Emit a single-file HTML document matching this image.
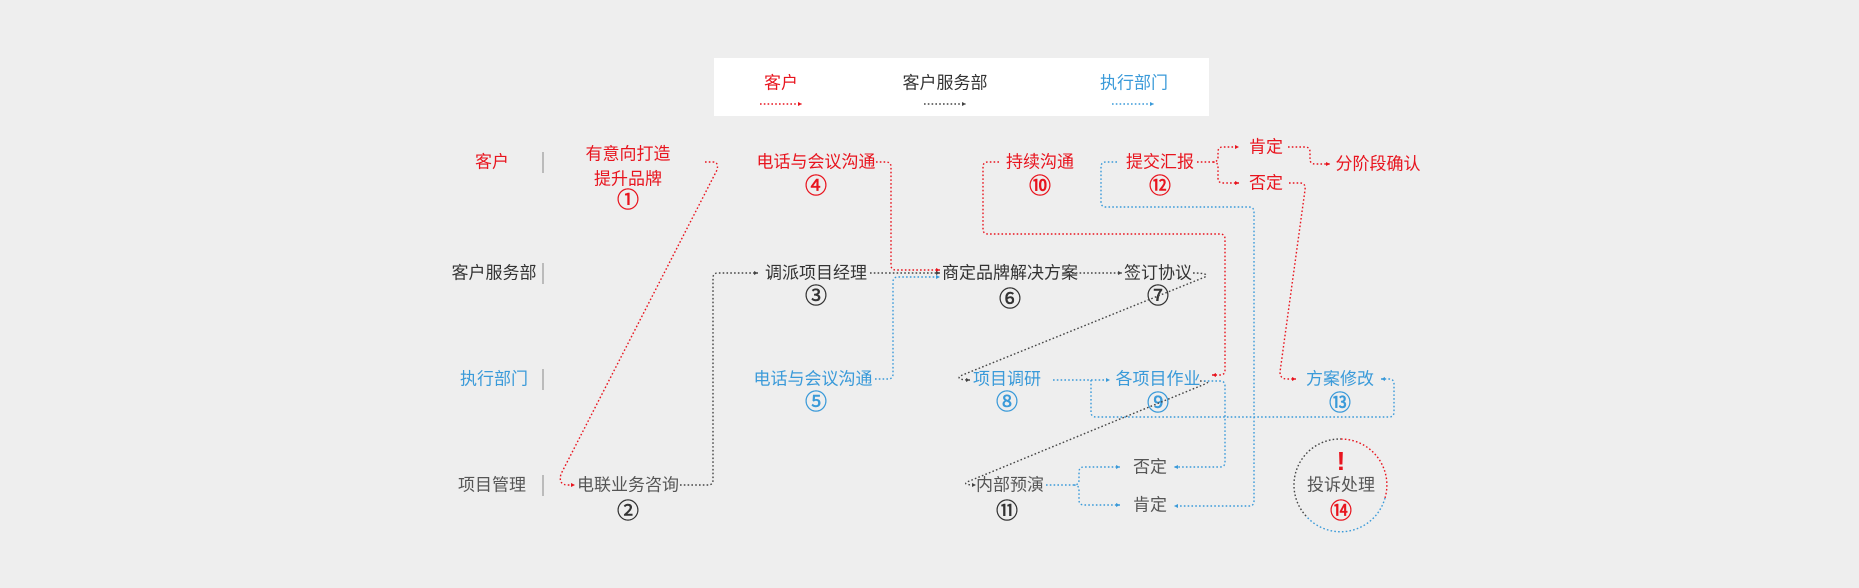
<!DOCTYPE html>
<html><head><meta charset="utf-8"><style>
html,body{margin:0;padding:0;background:#eeeeee;}
svg{display:block;}
text{font-family:"Liberation Sans","Noto Sans CJK SC",sans-serif;font-size:17px;dominant-baseline:central;text-anchor:middle;}
.r{fill:#e8141e}.b{fill:#3a9ad9}.k{fill:#333}.g{fill:#555}
.n{font-size:22px;stroke-width:0.5px}
.r.n{stroke:#e8141e}.b.n{stroke:#3a9ad9}.k.n{stroke:#333}
.lr{stroke:#e8141e}.lb{stroke:#3a9ad9}.lk{stroke:#444}
path{fill:none;stroke-width:1.4;stroke-dasharray:1.6 2.2;}
</style></head><body>
<svg width="1859" height="588" viewBox="0 0 1859 588" xmlns="http://www.w3.org/2000/svg">
<defs>
<marker id="ar" markerWidth="5" markerHeight="5" refX="4" refY="2.5" orient="auto" markerUnits="userSpaceOnUse"><path d="M0,0.5 L4,2.5 L0,4.5Z" style="fill:#e8141e;stroke:none"/></marker>
<marker id="ab" markerWidth="5" markerHeight="5" refX="4" refY="2.5" orient="auto" markerUnits="userSpaceOnUse"><path d="M0,0.5 L4,2.5 L0,4.5Z" style="fill:#3a9ad9;stroke:none"/></marker>
<marker id="ak" markerWidth="5" markerHeight="5" refX="4" refY="2.5" orient="auto" markerUnits="userSpaceOnUse"><path d="M0,0.5 L4,2.5 L0,4.5Z" style="fill:#444;stroke:none"/></marker>
</defs>
<rect x="714" y="58" width="495" height="58" fill="#fff"/>
<text x="781" y="83" class="r">客户</text>
<text x="945" y="83" class="k">客户服务部</text>
<text x="1134" y="83" class="b">执行部门</text>
<path class="lr" d="M760,104 H802" marker-end="url(#ar)"/>
<path class="lk" d="M924,104 H966" marker-end="url(#ak)"/>
<path class="lb" d="M1112,104 H1154" marker-end="url(#ab)"/>
<text x="492" y="162" class="r">客户</text>
<text x="494" y="273" class="k">客户服务部</text>
<text x="494" y="379" class="b">执行部门</text>
<text x="492" y="485" class="g">项目管理</text>
<g stroke="#888" stroke-width="1">
<line x1="543" y1="152" x2="543" y2="173"/><line x1="543" y1="263" x2="543" y2="284"/>
<line x1="543" y1="369" x2="543" y2="390"/><line x1="543" y1="475" x2="543" y2="496"/>
</g>
<text x="628" y="154" class="r">有意向打造</text>
<text x="628" y="179" class="r">提升品牌</text>
<text x="628" y="200" class="r n">①</text>
<text x="816" y="162" class="r">电话与会议沟通</text>
<text x="816" y="186" class="r n">④</text>
<text x="1040" y="162" class="r">持续沟通</text>
<text x="1040" y="186" class="r n">⑩</text>
<text x="1160" y="162" class="r">提交汇报</text>
<text x="1160" y="186" class="r n">⑫</text>
<text x="1266" y="147" class="r">肯定</text>
<text x="1266" y="183" class="r">否定</text>
<text x="1378" y="164" class="r">分阶段确认</text>
<text x="816" y="273" class="k">调派项目经理</text>
<text x="816" y="296" class="k n">③</text>
<text x="1010" y="273" class="k">商定品牌解决方案</text>
<text x="1010" y="299" class="k n">⑥</text>
<text x="1158" y="273" class="k">签订协议</text>
<text x="1158" y="296" class="k n">⑦</text>
<text x="813" y="379" class="b">电话与会议沟通</text>
<text x="816" y="402" class="b n">⑤</text>
<text x="1007" y="379" class="b">项目调研</text>
<text x="1007" y="402" class="b n">⑧</text>
<text x="1158" y="379" class="b">各项目作业</text>
<text x="1158" y="403" class="b n">⑨</text>
<text x="1340" y="379" class="b">方案修改</text>
<text x="1340" y="403" class="b n">⑬</text>
<text x="628" y="485" class="g">电联业务咨询</text>
<text x="628" y="511" class="k n">②</text>
<text x="1010" y="485" class="g">内部预演</text>
<text x="1007" y="511" class="k n">⑪</text>
<text x="1150" y="467" class="g">否定</text>
<text x="1150" y="505" class="g">肯定</text>
<text x="1341" y="461" class="r" style="font-size:26px;font-weight:bold">!</text>
<text x="1341" y="485" class="g">投诉处理</text>
<text x="1341" y="511" class="r n">⑭</text>
<path class="lr" d="M1341,439 A46,46 0 0 1 1385,498"/>
<path class="lb" d="M1385,498 A46,46 0 0 1 1306,516"/>
<path class="lk" d="M1306,516 A46,46 0 0 1 1341,439"/>
<path class="lr" d="M705,162 H713 Q719,162 717,170 L561,474 Q558,485 568,485 H575" marker-end="url(#ar)"/>
<path class="lk" d="M680,485 H708 Q713,485 713,480 V278 Q713,273 718,273 H758" marker-end="url(#ak)"/>
<path class="lr" d="M876,162 H886 Q891,162 891,167 V265 Q891,270 896,270 H940" marker-end="url(#ar)"/>
<path class="lk" d="M870,273 H940" marker-end="url(#ak)"/>
<path class="lb" d="M875,379 H888 Q893,379 893,374 V282 Q893,277 898,277 H940" marker-end="url(#ab)"/>
<path class="lk" d="M1072,273 H1122" marker-end="url(#ak)"/>
<path class="lk" d="M1193,273 Q1210,273 1205,277 L960,376 Q956,380 970,380" marker-end="url(#ak)"/>
<path class="lb" d="M1053,380 H1110" marker-end="url(#ab)"/>
<path class="lb" d="M1091,380 V412 Q1091,417 1096,417 H1389 Q1394,417 1394,412 V384 Q1394,379 1389,379 H1381" marker-end="url(#ab)"/>
<path class="lk" d="M1200,381 Q1212,381 1205,384 L967,482 Q962,485 976,485" marker-end="url(#ak)"/>
<path class="lb" d="M1204,381 H1220 Q1225,381 1225,386 V462 Q1225,467 1220,467 H1174" marker-end="url(#ab)"/>
<path class="lr" d="M999,162 H988 Q983,162 983,167 V229 Q983,234 988,234 H1220 Q1225,234 1225,239 V370 Q1225,375 1220,375 H1212" marker-end="url(#ar)"/>
<path class="lb" d="M1117,162 H1106 Q1101,162 1101,167 V202 Q1101,207 1106,207 H1249 Q1254,207 1254,212 V501 Q1254,506 1249,506 H1174" marker-end="url(#ab)"/>
<path class="lr" d="M1197,162 H1213 Q1218,162 1218,157 V152 Q1218,147 1223,147 H1239" marker-end="url(#ar)"/>
<path class="lr" d="M1213,162 Q1218,162 1218,167 V178 Q1218,183 1223,183 H1239" marker-end="url(#ar)"/>
<path class="lr" d="M1288,147 H1305 Q1310,147 1310,152 V159 Q1310,164 1315,164 H1330" marker-end="url(#ar)"/>
<path class="lr" d="M1289,183 H1300 Q1306,183 1305,190 L1280,372 Q1280,379 1287,379 H1296" marker-end="url(#ar)"/>
<path class="lb" d="M1046,485 H1074 Q1079,485 1079,480 V472 Q1079,467 1084,467 H1120" marker-end="url(#ab)"/>
<path class="lb" d="M1074,485 Q1079,485 1079,490 V500 Q1079,505 1084,505 H1120" marker-end="url(#ab)"/>
</svg>
</body></html>
